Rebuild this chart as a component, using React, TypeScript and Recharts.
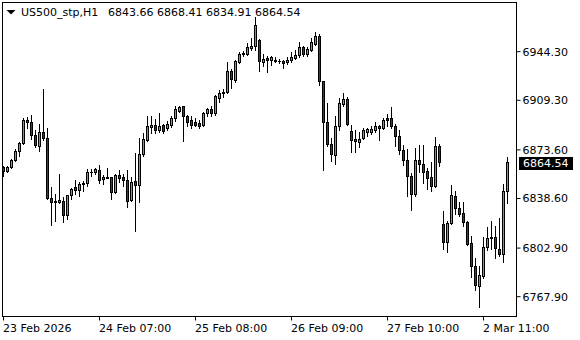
import React from 'react';
import { ComposedChart, Bar, XAxis, YAxis, ReferenceLine } from 'recharts';

// hourly candles (oldest first)
const OPEN = [
  6860.7, 6857.9, 6860.7, 6865.8, 6872.3, 6878.0, 6894.6, 6893.1, 6883.8, 6875.9,
  6885.9, 6881.6, 6838.4, 6836.3, 6835.5, 6836.3, 6826.2, 6840.6, 6846.3, 6844.2,
  6848.5, 6849.2, 6857.1, 6857.1, 6858.6, 6852.1, 6853.5, 6853.5, 6842.8, 6855.0,
  6853.5, 6851.4, 6837.0, 6850.7, 6847.8, 6870.1, 6880.2, 6889.5, 6891.0, 6887.4,
  6891.0, 6888.8, 6891.0, 6896.0, 6901.1, 6904.7, 6897.5, 6894.6, 6893.1, 6892.4,
  6891.0, 6899.6, 6902.5, 6899.6, 6910.4, 6914.0, 6914.7, 6929.9, 6923.4, 6936.4,
  6942.1, 6942.1, 6946.4, 6947.9, 6952.2, 6936.4, 6939.2, 6937.8, 6937.8, 6937.1,
  6937.1, 6936.4, 6937.8, 6939.2, 6941.4, 6947.1, 6942.1, 6945.0, 6949.3, 6955.1,
  6922.7, 6893.1, 6877.3, 6869.4, 6890.3, 6906.1, 6909.7, 6886.7, 6880.9, 6878.7,
  6881.6, 6885.9, 6885.9, 6887.4, 6890.3, 6888.8, 6896.0, 6896.0, 6890.3, 6883.1,
  6873.0, 6865.8, 6854.3, 6841.3, 6865.8, 6862.9, 6857.9, 6853.5, 6847.1, 6875.9,
  6819.7, 6806.7, 6820.4, 6839.9, 6831.2, 6827.6, 6821.1, 6806.0, 6789.5, 6775.1,
  6782.3, 6803.1, 6809.6, 6810.3, 6801.7, 6798.1, 6843.66,
];
const HIGH = [
  6861.5, 6861.5, 6866.5, 6873.7, 6878.7, 6896.0, 6896.7, 6898.2, 6887.4, 6891.7,
  6916.9, 6888.8, 6846.3, 6841.3, 6855.7, 6839.1, 6840.6, 6845.6, 6851.4, 6849.9,
  6850.7, 6859.3, 6859.3, 6860.0, 6862.2, 6855.0, 6860.0, 6853.5, 6855.7, 6858.6,
  6855.7, 6858.6, 6853.5, 6870.8, 6881.6, 6885.2, 6897.5, 6897.5, 6895.3, 6899.6,
  6891.7, 6893.9, 6897.5, 6904.7, 6904.7, 6904.7, 6898.2, 6897.5, 6896.0, 6894.6,
  6900.3, 6903.2, 6904.7, 6912.6, 6916.2, 6916.9, 6936.4, 6931.3, 6937.8, 6943.5,
  6944.3, 6950.0, 6953.6, 6968.7, 6952.9, 6942.1, 6940.7, 6940.7, 6940.0, 6938.5,
  6937.8, 6940.0, 6943.5, 6945.0, 6950.7, 6947.9, 6947.1, 6953.6, 6957.9, 6956.5,
  6922.7, 6906.8, 6881.6, 6897.5, 6910.4, 6914.0, 6911.1, 6891.0, 6887.4, 6885.9,
  6888.8, 6888.8, 6890.3, 6893.1, 6891.0, 6896.0, 6898.9, 6904.0, 6891.7, 6887.4,
  6876.6, 6873.7, 6856.4, 6874.4, 6876.6, 6876.6, 6860.0, 6864.4, 6882.3, 6877.3,
  6829.1, 6821.9, 6847.8, 6843.5, 6835.5, 6835.5, 6821.9, 6811.1, 6795.2, 6789.5,
  6810.3, 6817.5, 6821.9, 6818.3, 6824.0, 6848.5, 6868.41,
];
const LOW = [
  6854.3, 6857.1, 6860.0, 6865.1, 6868.7, 6877.3, 6888.8, 6880.9, 6875.1, 6872.3,
  6880.2, 6837.7, 6819.0, 6821.9, 6834.8, 6821.1, 6823.3, 6837.7, 6841.3, 6839.9,
  6843.5, 6847.1, 6854.3, 6855.7, 6849.2, 6848.5, 6852.8, 6837.7, 6842.0, 6849.9,
  6847.1, 6832.0, 6836.3, 6814.7, 6835.5, 6868.7, 6879.5, 6885.2, 6885.2, 6885.9,
  6885.2, 6887.4, 6889.5, 6893.9, 6900.3, 6879.5, 6890.3, 6888.8, 6890.3, 6888.8,
  6890.3, 6897.5, 6897.5, 6898.2, 6907.6, 6911.1, 6914.0, 6917.6, 6922.0, 6935.7,
  6940.7, 6941.4, 6945.0, 6945.0, 6929.9, 6933.5, 6929.1, 6934.2, 6936.4, 6935.6,
  6932.0, 6934.9, 6936.4, 6938.5, 6940.0, 6940.7, 6940.7, 6944.3, 6948.6, 6919.8,
  6858.6, 6875.9, 6865.1, 6862.9, 6887.4, 6904.7, 6891.0, 6871.6, 6871.6, 6875.1,
  6880.9, 6883.1, 6884.5, 6885.9, 6880.2, 6888.1, 6890.3, 6888.8, 6875.9, 6870.1,
  6862.2, 6839.9, 6829.8, 6839.9, 6857.1, 6849.2, 6844.9, 6843.5, 6846.4, 6861.5,
  6801.7, 6799.5, 6819.7, 6826.9, 6825.5, 6818.3, 6804.6, 6781.6, 6772.2, 6759.9,
  6780.8, 6801.0, 6801.7, 6795.2, 6796.7, 6792.3, 6834.91,
];
const CLOSE = [
  6857.9, 6860.7, 6865.8, 6872.3, 6878.0, 6894.6, 6893.1, 6883.8, 6876.6, 6885.9,
  6881.6, 6838.4, 6835.5, 6835.5, 6837.0, 6826.2, 6840.6, 6844.9, 6844.2, 6848.5,
  6849.2, 6857.1, 6857.5, 6859.3, 6851.4, 6853.5, 6852.8, 6842.8, 6855.0, 6852.8,
  6851.4, 6836.3, 6849.9, 6847.8, 6870.1, 6880.9, 6890.3, 6891.0, 6887.4, 6890.3,
  6886.7, 6891.7, 6896.0, 6902.5, 6904.0, 6897.5, 6893.1, 6891.0, 6891.0, 6890.3,
  6899.6, 6902.5, 6899.6, 6911.9, 6914.0, 6914.7, 6929.9, 6924.1, 6937.1, 6942.1,
  6942.8, 6947.1, 6947.9, 6963.0, 6937.1, 6938.5, 6937.8, 6940.0, 6937.1, 6937.4,
  6935.6, 6937.8, 6940.0, 6941.4, 6947.1, 6942.1, 6945.7, 6950.7, 6955.1, 6922.7,
  6893.1, 6877.3, 6870.1, 6890.3, 6906.8, 6909.7, 6891.7, 6880.2, 6879.5, 6880.9,
  6887.4, 6888.1, 6888.1, 6890.3, 6888.8, 6894.6, 6894.6, 6890.3, 6883.1, 6873.0,
  6865.8, 6854.3, 6841.3, 6865.8, 6862.9, 6857.1, 6852.8, 6847.1, 6875.9, 6864.4,
  6806.7, 6820.4, 6840.6, 6831.2, 6826.9, 6821.1, 6805.3, 6789.5, 6775.8, 6783.0,
  6803.1, 6809.6, 6810.3, 6802.4, 6798.1, 6843.7, 6864.54,
];

const SYMBOL = 'US500_stp,H1';
const TIME_TICKS = [0, 24, 48, 72, 96, 120];
const TIME_LABELS = ['23 Feb 2026', '24 Feb 07:00', '25 Feb 08:00', '26 Feb 09:00', '27 Feb 10:00', '2 Mar 11:00'];
const PRICE_TICKS = [6944.3, 6909.3, 6873.6, 6838.6, 6802.9, 6767.9];

const BULL = '#32cd32';
const BEAR = '#d00000';
const FONT = '"DejaVu Sans", Tahoma, sans-serif';
const LAST = OPEN.length - 1;

const data = OPEN.map((o, i) => ({
  i,
  open: o,
  high: HIGH[i],
  low: LOW[i],
  close: CLOSE[i],
  range: [LOW[i], HIGH[i]],
}));

// wick + outlined body, like the terminal draws them
const Candle = (props: any) => {
  const { x, y, width, height, payload } = props;
  if (x == null || y == null || !payload) return null;
  const { open, high, low, close } = payload;
  const top = Math.min(y, y + height);
  const span = Math.abs(height);
  const toY = (p: number) => (high === low ? top : top + ((high - p) / (high - low)) * span);
  const cx = Math.floor(x + width / 2);
  const hi = Math.floor(toY(high));
  const lo = Math.floor(toY(low));
  const bt = Math.floor(toY(Math.max(open, close)));
  const bb = Math.floor(toY(Math.min(open, close)));
  return (
    <g>
      <rect x={cx} y={hi} width={1} height={lo - hi + 1} fill="#000" />
      <rect x={cx - 1} y={bt} width={3} height={bb - bt + 1} fill="#000" />
      {bb - bt >= 2 && (
        <rect x={cx} y={bt + 1} width={1} height={bb - bt - 1} fill={close >= open ? BULL : BEAR} />
      )}
    </g>
  );
};

const TimeTick = ({ x, y, payload }: any) => (
  <text x={x - 0.5} y={y + 9} fill="#000" fontSize={11} fontFamily={FONT} textAnchor="start">
    {TIME_LABELS[TIME_TICKS.indexOf(payload.value)]}
  </text>
);

const PriceTag = ({ viewBox }: any) => {
  if (!viewBox) return null;
  const right = viewBox.x + viewBox.width;
  const row = Math.floor(viewBox.y);
  return (
    <g>
      <rect x={right + 2.5} y={row - 5} width={54} height={13} fill="#000" />
      <text x={right + 6.5} y={row + 5} fill="#fff" fontSize={11} fontFamily={FONT}>
        {CLOSE[LAST].toFixed(2)}
      </text>
    </g>
  );
};

export default function App() {
  const ohlc = [OPEN[LAST], HIGH[LAST], LOW[LAST], CLOSE[LAST]].map((v) => v.toFixed(2)).join(' ');
  return (
    <div style={{ position: 'absolute', left: 0, top: 0, width: 580, height: 340, background: '#fff' }}>
      <ComposedChart
        width={580}
        height={340}
        data={data}
        margin={{ top: 2.5, right: 0, bottom: 0, left: 2.5 }}
      >
        <XAxis
          dataKey="i"
          type="number"
          domain={[-0.25, 128.25]}
          allowDataOverflow
          ticks={TIME_TICKS}
          interval={0}
          height={23.5}
          tick={<TimeTick />}
          tickSize={4}
          tickLine={{ stroke: '#000' }}
          axisLine={{ stroke: '#000' }}
        />
        <YAxis
          orientation="right"
          type="number"
          domain={[6753.64, 6979.72]}
          allowDataOverflow
          ticks={PRICE_TICKS}
          interval={0}
          width={63.5}
          tickSize={4}
          tickMargin={2}
          tickFormatter={(v: number) => v.toFixed(2)}
          tick={{ fill: '#000', fontSize: 11, fontFamily: FONT }}
          tickLine={{ stroke: '#000' }}
          axisLine={{ stroke: '#000' }}
        />
        <Bar dataKey="range" barSize={3} shape={(p: any) => <Candle {...p} />} isAnimationActive={false} />
        <ReferenceLine
          y={CLOSE[LAST]}
          stroke="#000"
          strokeOpacity={0}
          ifOverflow="visible"
          label={(p: any) => <PriceTag {...p} />}
        />
      </ComposedChart>
      <svg width={580} height={340} style={{ position: 'absolute', left: 0, top: 0, pointerEvents: 'none' }}>
        {/* chart window frame */}
        <rect x={2.5} y={2.5} width={514} height={314} fill="none" stroke="#000" strokeWidth={1} />
        <polygon points="6.5,10 15.5,10 11,14.5" fill="#000" />
        <text x={21} y={16} fill="#000" fontSize={11} fontFamily={FONT}>{SYMBOL}</text>
        <text x={108} y={16} fill="#000" fontSize={11} fontFamily={FONT}>{ohlc}</text>
      </svg>
    </div>
  );
}
